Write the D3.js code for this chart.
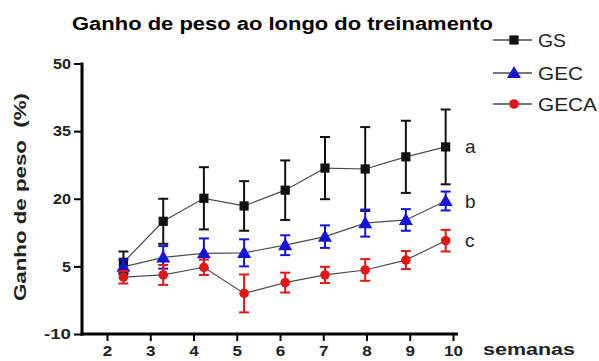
<!DOCTYPE html>
<html>
<head>
<meta charset="utf-8">
<script src="https://cdn.jsdelivr.net/npm/d3@7/dist/d3.min.js"></script>
<style>
  html, body { margin: 0; padding: 0; background: #fff; }
  svg { display: block; font-family: Arial, "Liberation Sans", sans-serif; }
</style>
</head>
<body>
<svg id="chart" width="599" height="361"></svg>
<script>
// Weight gain (%) per training week, mean ± error, three groups
const weekTicks = [2, 3, 4, 5, 6, 7, 8, 9, 10];
const weekPos = [2.38, 3.30, 4.24, 5.17, 6.12, 7.04, 7.97, 8.91, 9.83];
const yTicks = [-10, 5, 20, 35, 50];

const gsMean   = [5.9, 15.0, 20.1, 18.4, 21.9, 26.8, 26.6, 29.3, 31.5];
const gsErr    = [2.4, 5.0, 6.9, 5.5, 6.6, 6.9, 9.3, 8.0, 8.3];
const gecMean  = [4.9, 7.0, 7.9, 8.0, 9.7, 11.6, 14.6, 15.3, 19.5];
const gecErr   = [1.6, 2.5, 3.3, 3.0, 2.2, 2.5, 3.0, 2.4, 2.1];
const gecaMean = [2.6, 3.1, 4.8, -1.0, 1.4, 3.1, 4.2, 6.4, 10.7];
const gecaErr  = [1.4, 2.2, 1.7, 4.2, 2.2, 1.8, 2.4, 2.0, 2.4];

const seriesNames = ["GS", "GEC", "GECA"];
const groupLetters = ["a", "b", "c"];

const series = [
  { name: seriesNames[0], mean: gsMean,   err: gsErr,   color: "#111111", symbol: d3.symbolSquare },
  { name: seriesNames[1], mean: gecMean,  err: gecErr,  color: "#1414d8", symbol: d3.symbolTriangle },
  { name: seriesNames[2], mean: gecaMean, err: gecaErr, color: "#e31616", symbol: d3.symbolCircle }
];

const svg = d3.select("#chart");

const x = d3.scaleLinear().domain([2, 10]).range([107, 453]);
const y = d3.scaleLinear().domain([-10, 50]).range([334, 63.5]);

// Title
svg.append("text")
  .attr("x", 72).attr("y", 30)
  .attr("font-size", 18).attr("font-weight", "bold")
  .attr("textLength", 421).attr("lengthAdjust", "spacingAndGlyphs")
  .text("Ganho de peso ao longo do treinamento");

// Y axis
const yAxis = svg.append("g")
  .attr("transform", "translate(82,0)")
  .call(d3.axisLeft(y).tickValues(yTicks).tickFormat(d => String(d))
    .tickSize(8).tickPadding(3).tickSizeOuter(0));
yAxis.select(".domain").attr("stroke-width", 3).attr("d", `M0,${y(50) - 1}V${y(-10) + 1.5}`);
yAxis.selectAll(".tick line").attr("stroke-width", 2);
yAxis.selectAll(".tick text")
  .attr("font-size", 15).attr("font-weight", "bold").attr("fill", "#222")
  .attr("textLength", d => String(d).length * 9)
  .attr("lengthAdjust", "spacingAndGlyphs");

// X axis
const xAxis = svg.append("g")
  .attr("transform", `translate(0,${y(-10)})`)
  .call(d3.axisBottom(x).tickValues(weekTicks).tickFormat(d => String(d))
    .tickSize(7).tickPadding(4).tickSizeOuter(0));
xAxis.select(".domain").attr("stroke-width", 3).attr("d", `M80.5,0H458`);
xAxis.selectAll(".tick line").attr("stroke-width", 2);
xAxis.selectAll(".tick text")
  .attr("font-size", 15).attr("font-weight", "bold").attr("fill", "#222")
  .attr("textLength", d => String(d).length * 9.5)
  .attr("lengthAdjust", "spacingAndGlyphs");

// Axis titles
svg.append("text")
  .attr("transform", "translate(26,197) rotate(-90)")
  .attr("text-anchor", "middle")
  .attr("font-size", 16).attr("font-weight", "bold").attr("fill", "#222")
  .attr("textLength", 208).attr("lengthAdjust", "spacingAndGlyphs")
  .style("white-space", "pre")
  .text("Ganho de peso  (%)");

svg.append("text")
  .attr("x", 483).attr("y", 355)
  .attr("font-size", 16).attr("font-weight", "bold").attr("fill", "#222")
  .attr("textLength", 92).attr("lengthAdjust", "spacingAndGlyphs")
  .text("semanas");

// Series: connecting line, error bars, markers
const line = d3.line().x((d, i) => x(weekPos[i])).y(d => y(d));

series.forEach((s, si) => {
  const g = svg.append("g");
  g.append("path")
    .attr("d", line(s.mean))
    .attr("fill", "none").attr("stroke", "#4a4a4a").attr("stroke-width", 1.2);

  const bars = g.selectAll(".eb").data(s.mean).join("g");
  bars.append("line")
    .attr("x1", (d, i) => x(weekPos[i])).attr("x2", (d, i) => x(weekPos[i]))
    .attr("y1", (d, i) => y(d + s.err[i])).attr("y2", (d, i) => y(d - s.err[i]))
    .attr("stroke", s.color).attr("stroke-width", 2);
  [1, -1].forEach(sign => {
    bars.append("line")
      .attr("x1", (d, i) => x(weekPos[i]) - 5).attr("x2", (d, i) => x(weekPos[i]) + 5)
      .attr("y1", (d, i) => y(d + sign * s.err[i])).attr("y2", (d, i) => y(d + sign * s.err[i]))
      .attr("stroke", s.color).attr("stroke-width", 2);
  });

  const sym = d3.symbol().type(s.symbol).size(s.symbol === d3.symbolCircle ? 72 : 85);
  g.selectAll(".mk").data(s.mean).join("path")
    .attr("d", sym)
    .attr("transform", (d, i) => `translate(${x(weekPos[i])},${y(d) + (s.symbol === d3.symbolTriangle ? 1 : 0)})`)
    .attr("fill", s.color);

  // Group letter next to the last point
  svg.append("text")
    .attr("x", 465).attr("y", y(s.mean[s.mean.length - 1]) + 6.5)
    .attr("font-size", 19).attr("fill", "#222")
    .text(groupLetters[si]);
});

// Legend
const legendY = [40, 73, 104];
const legendTextLen = [28, 45, 59];
series.forEach((s, i) => {
  const g = svg.append("g").attr("transform", `translate(0,${legendY[i]})`);
  g.append("line").attr("x1", 493).attr("x2", 532).attr("y1", 0).attr("y2", 0)
    .attr("stroke", "#4a4a4a").attr("stroke-width", 1.5);
  g.append("path")
    .attr("d", d3.symbol().type(s.symbol).size(s.symbol === d3.symbolCircle ? 72 : 85))
    .attr("transform", `translate(514,${s.symbol === d3.symbolTriangle ? 1 : 0})`)
    .attr("fill", s.color);
  g.append("text")
    .attr("x", 538).attr("y", 6.5)
    .attr("font-size", 18).attr("fill", "#222")
    .attr("textLength", legendTextLen[i]).attr("lengthAdjust", "spacingAndGlyphs")
    .text(s.name);
});
</script>
</body>
</html>
